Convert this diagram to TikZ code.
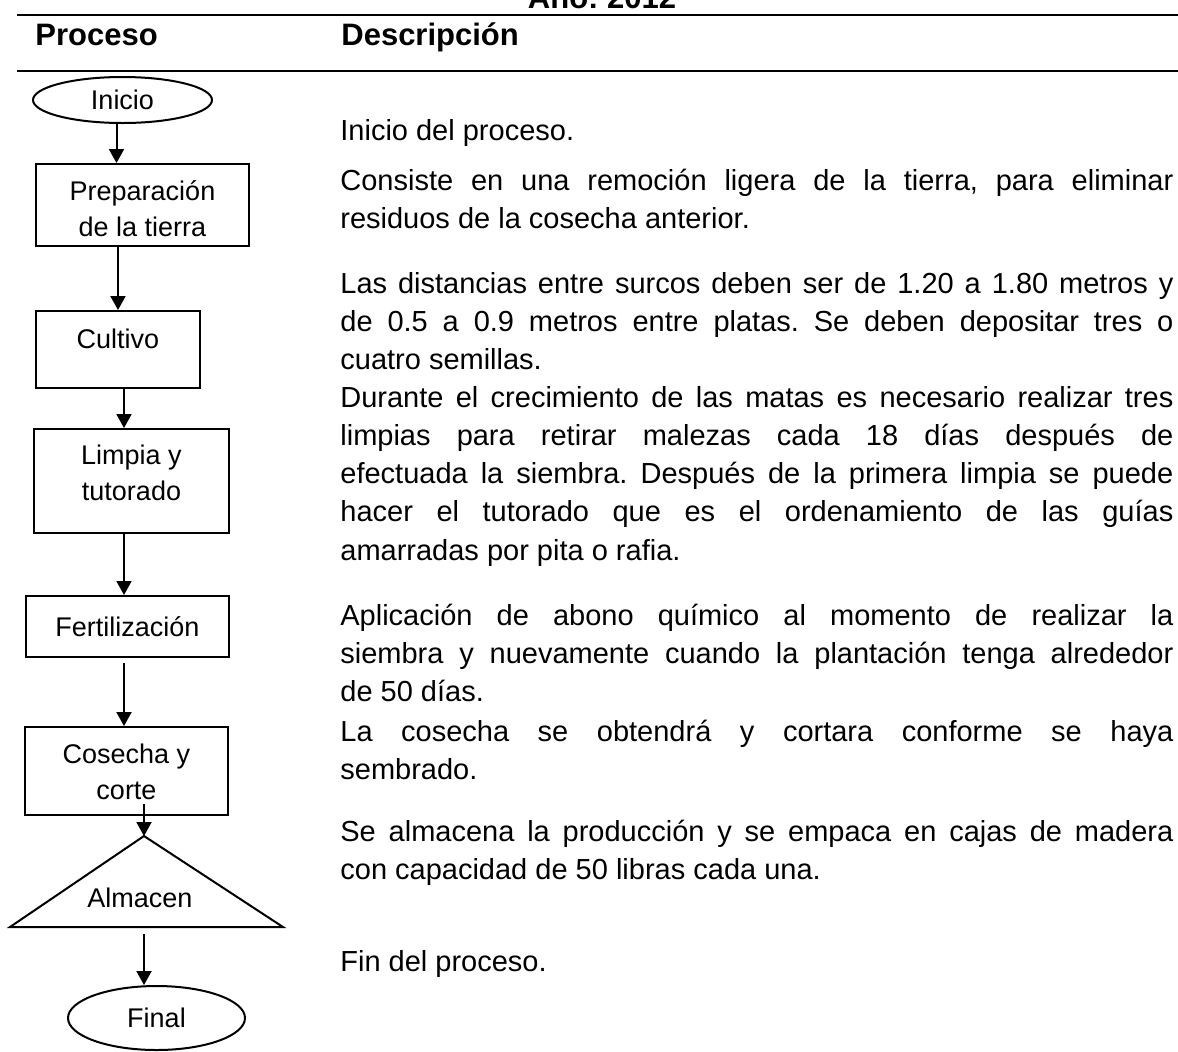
\documentclass[tikz,border=0pt]{standalone}
\usepackage{fontspec}
\setmainfont{Liberation Sans}
\usetikzlibrary{
  positioning,
  arrows.meta,
  shapes.geometric,
  calc
}
\hyphenpenalty=10000
\exhyphenpenalty=10000
\tolerance=9999
\hbadness=10000
\frenchspacing

\begin{document}
\begin{tikzpicture}[
  x=0.5pt, y=-0.5pt,
  rule/.style={line width=0.8pt},
  head/.style={anchor=base west, inner sep=0pt, font=\fontsize{15.5}{18}\selectfont\bfseries},
  box/.style={draw, line width=1pt, inner sep=0pt, align=center,
              font=\fontsize{13.5}{18}\selectfont},
  term/.style={box, ellipse},
  desc/.style={anchor=base west, inner sep=0pt, text width=416.5pt, align=justify,
               font=\fontsize{14.5}{19.15}\selectfont},
  arr/.style={-{Triangle[length=7pt, width=7.5pt]}, line width=1pt}
]
  \useasboundingbox (0,0) rectangle (1178,1051);

  % header
  \node[anchor=base, inner sep=0pt, font=\fontsize{15.5}{18}\selectfont\bfseries] (anio) at (602,8) {Año: 2012};
  \draw[rule] (17,15) -- (1178,15);
  \node[head] (proceso) at (35,45) {Proceso};
  \node[head] (descripcion) at (341,45) {Descripción};
  \draw[rule] (17,71) -- (1178,71);

  % flow chart
  \node[term, minimum width=89.5pt, minimum height=23pt] (inicio) at (122.5,100) {Inicio};
  \node[box, minimum width=106.5pt, minimum height=41pt, text height=31.7pt, text depth=0pt]
    (prep) at (142.5,205) {Preparación\\de la tierra};
  \node[box, minimum width=82pt, minimum height=38.5pt, text height=10pt, text depth=11.5pt]
    (cultivo) at (118,349.5) {Cultivo};
  \node[box, minimum width=97.5pt, minimum height=52pt, text height=19.7pt, text depth=0pt]
    (limpia) at (131.5,481) {Limpia y\\tutorado};
  \node[box, minimum width=101.5pt, minimum height=30.5pt] (fert) at (127.5,626.5) {Fertilización};
  \node[box, minimum width=101.5pt, minimum height=44pt, text height=28.7pt, text depth=0pt]
    (cosecha) at (126.5,771) {Cosecha y\\corte};
  \coordinate (almtop) at (144,836);
  \coordinate (almbase) at (144,927);
  \draw[line width=1pt] (almtop) -- (10,927) -- (283,927) -- cycle;
  \node[font=\fontsize{13.5}{18}\selectfont, inner sep=0pt] (almacen) at (140,898) {Almacen};
  \node[term, minimum width=88.5pt, minimum height=32pt] (final) at (156.5,1018) {Final};

  \draw[arr] ($(inicio.south)+(-6,0)$) -- ($(inicio.south |- prep.north)+(-6,0)$);
  \draw[arr] (prep.south -| cultivo.north) -- (cultivo.north);
  \draw[arr] ($(cultivo.south)+(6,0)$) -- ($(cultivo.south |- limpia.north)+(6,0)$);
  \draw[arr] ($(limpia.south)+(-7.5,0)$) -- ($(limpia.south |- fert.north)+(-7.5,0)$);
  \draw[arr] ($(fert.south)+(-3.5,5)$) -- ($(fert.south |- cosecha.north)+(-3.5,0)$);
  \draw[arr] ($(cosecha.south -| almtop)+(0,-12)$) -- (almtop);
  \draw[arr] ($(almbase)+(0,7)$) -- (almbase |- final.north);

  % description
  \node[desc] (d1) at (340,140) {Inicio del proceso.};
  \node[desc] (d2) at (340,190) {Consiste en una remoción ligera de la tierra, para eliminar\linebreak
    residuos de la cosecha anterior.};
  \node[desc] (d3) at (340,293) {Las distancias entre surcos deben ser de 1.20 a 1.80 metros y\linebreak
    de 0.5 a 0.9 metros entre platas. Se deben depositar tres o\linebreak
    cuatro semillas.};
  \node[desc] (d4) at (340,407) {Durante el crecimiento de las matas es necesario realizar tres\linebreak
    limpias para retirar malezas cada 18 días después de\linebreak
    efectuada la siembra. Después de la primera limpia se puede\linebreak
    hacer el tutorado que es el ordenamiento de las guías\linebreak
    amarradas por pita o rafia.};
  \node[desc] (d5) at (340,625) {Aplicación de abono químico al momento de realizar la\linebreak
    siembra y nuevamente cuando la plantación tenga alrededor\linebreak
    de 50 días.};
  \node[desc] (d6) at (340,741) {La cosecha se obtendrá y cortara conforme se haya\linebreak
    sembrado.};
  \node[desc] (d7) at (340,841) {Se almacena la producción y se empaca en cajas de madera\linebreak
    con capacidad de 50 libras cada una.};
  \node[desc] (d8) at (340,971) {Fin del proceso.};
\end{tikzpicture}
\end{document}
